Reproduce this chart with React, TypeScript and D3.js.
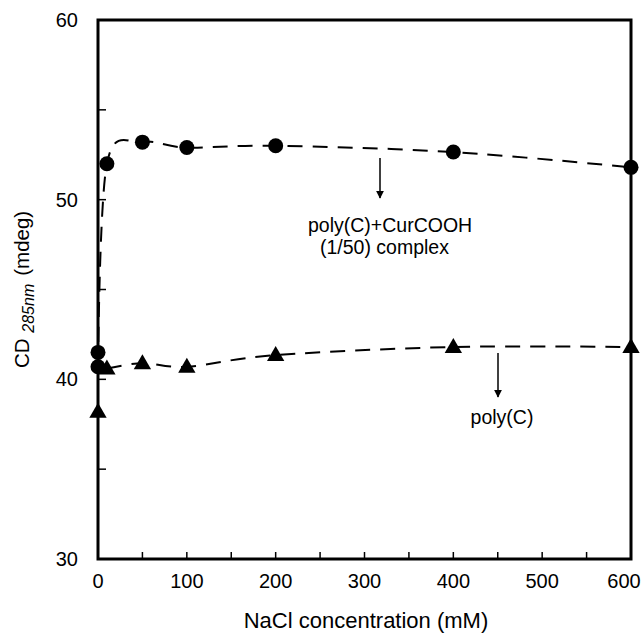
import React from "react";
import * as d3 from "d3";

const nacl_complex = [0, 0, 10, 50, 100, 200, 400, 600];
const cd_complex = [41.5, 40.7, 52.0, 53.2, 52.9, 53.0, 52.65, 51.8];
const nacl_polyc = [0, 10, 50, 100, 200, 400, 600];
const cd_polyc = [38.2, 40.6, 40.9, 40.7, 41.35, 41.8, 41.8];
const xTicks = [0, 100, 200, 300, 400, 500, 600];
const yTicks = [30, 40, 50, 60];
const xMinor = d3.range(0, 601, 50);
const yMinor = d3.range(30, 61, 5);

const W = 642, H = 635;
const L = 98, R = 631, T = 20, B = 559;

export default function App() {
  const x = d3.scaleLinear().domain([0, 600]).range([L, R]);
  const y = d3.scaleLinear().domain([30, 60]).range([B, T]);
  const cx = nacl_complex.map((v, i) => [x(v), y(cd_complex[i])] as [number, number]);
  const px = nacl_polyc.map((v, i) => [x(v), y(cd_polyc[i])] as [number, number]);
  const line = d3.line().curve(d3.curveCardinal.tension(0));
  const tri = d3.symbol().type(d3.symbolTriangle).size(130)();
  const font = "Arial, 'Liberation Sans', sans-serif";
  return (
    <svg width={W} height={H} style={{ position: "absolute", left: 0, top: 0, background: "#fff" }} fontFamily={font}>
      <rect x={0} y={0} width={W} height={H} fill="#fff" />
      <defs>
        <marker id="ah" viewBox="0 0 10 10" refX="9" refY="5" markerWidth="8" markerHeight="8" orient="auto" markerUnits="userSpaceOnUse">
          <path d="M0,0 L10,5 L0,10 z" fill="#000" />
        </marker>
      </defs>
      <path d={line(cx.slice(1)) || ""} fill="none" stroke="#000" strokeWidth={2} strokeDasharray="15,10" />
      <path d={line(px.slice(1)) || ""} fill="none" stroke="#000" strokeWidth={2} strokeDasharray="15,10" />
      {xMinor.map((t) => (
        <line key={"xt" + t} x1={x(t)} x2={x(t)} y1={B} y2={B - 7} stroke="#000" strokeWidth={1.5} />
      ))}
      {yMinor.map((t) => (
        <line key={"yt" + t} x1={L} x2={L + 8} y1={y(t)} y2={y(t)} stroke="#000" strokeWidth={1.5} />
      ))}
      <path d={`M${L},${T}H${R}V${B}H${L}Z`} fill="none" stroke="#000" strokeWidth={3} />
      {cx.map(([a, b], i) => (
        <circle key={"c" + i} cx={a} cy={b} r={7.5} fill="#000" />
      ))}
      {px.map(([a, b], i) => (
        <path key={"p" + i} d={tri || ""} transform={`translate(${a},${b + 1})`} fill="#000" />
      ))}
      {xTicks.map((t) => (
        <text key={"xl" + t} x={Math.min(x(t), W - 18)} y={588} textAnchor="middle" fontSize={20}>{t}</text>
      ))}
      {yTicks.map((t) => (
        <text key={"yl" + t} x={78} y={y(t) + 7} textAnchor="end" fontSize={20}>{t}</text>
      ))}
      <text x={366} y={628} textAnchor="middle" fontSize={22}>NaCl concentration (mM)</text>
      <text transform={`translate(29,368) rotate(-90)`} textAnchor="start" fontSize={20.5}>
        CD <tspan fontStyle="italic" fontSize={16} dy={5}>285nm</tspan><tspan dy={-5} dx={8}>(mdeg)</tspan>
      </text>
      <line x1={380} x2={380} y1={158} y2={198} stroke="#000" strokeWidth={1.5} markerEnd="url(#ah)" />
      <text x={308} y={232} textAnchor="start" fontSize={19.5}>poly(C)+CurCOOH</text>
      <text x={320} y={254} textAnchor="start" fontSize={19.5}>(1/50) complex</text>
      <line x1={498} x2={498} y1={353} y2={397} stroke="#000" strokeWidth={1.5} markerEnd="url(#ah)" />
      <text x={502} y={424} textAnchor="middle" fontSize={19.5}>poly(C)</text>
    </svg>
  );
}
